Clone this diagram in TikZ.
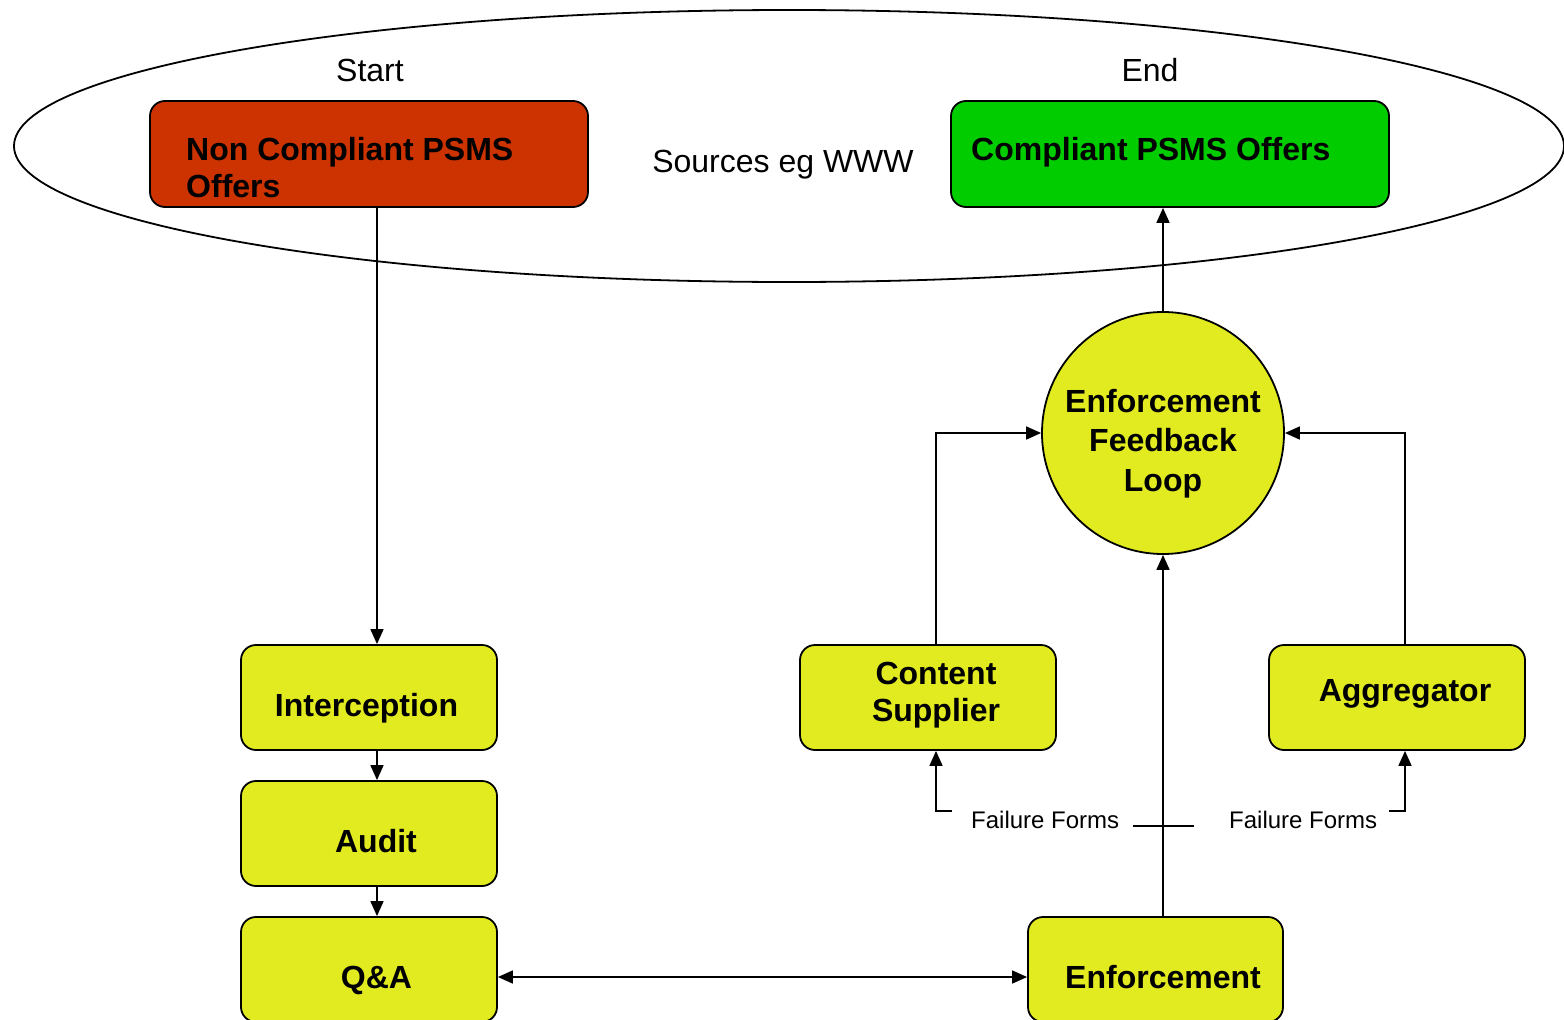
\documentclass[tikz,border=0pt]{standalone}
\usepackage{fontspec}
\setmainfont{Liberation Sans}
\usetikzlibrary{arrows.meta}
\definecolor{redbox}{HTML}{CC3300}
\definecolor{greenbox}{HTML}{00CC00}
\definecolor{yellowbox}{HTML}{E1EB1F}
\begin{document}
\begin{tikzpicture}[x=1pt,y=-1pt,
  box/.style={draw=black, line width=1.8pt, rounded corners=15pt, inner sep=0pt},
  ybox/.style={box, fill=yellowbox, minimum width=256pt, minimum height=105pt},
  tip/.style={-{Triangle[length=15pt,width=13pt]}},
  conn/.style={line width=1.6pt, tip},
  lbl/.style={inner sep=0pt, font=\fontsize{32}{37}\selectfont\bfseries},
  plainlbl/.style={inner sep=0pt, font=\fontsize{32}{37}\selectfont},
  smalllbl/.style={inner sep=0pt, font=\fontsize{24}{28}\selectfont}]
\useasboundingbox (0,0) rectangle (1564,1020);
\fill[white] (0,0) rectangle (1564,1020);

% sources ellipse
\draw[line width=1.8pt] (789,146) ellipse [x radius=775, y radius=136];
\node[plainlbl, anchor=base] (start) at (370,81) {Start};
\node[plainlbl, anchor=base] (end) at (1150,81) {End};
\node[plainlbl, anchor=base] (src) at (783,172) {Sources eg WWW};

% boxes
\node[box, fill=redbox, minimum width=438pt, minimum height=106pt] (nc) at (369,154) {};
\node[box, fill=greenbox, minimum width=438pt, minimum height=106pt] (cp) at (1170,154) {};
\node[ybox] (int) at (369,697.5) {};
\node[ybox] (aud) at (369,833.5) {};
\node[ybox] (qa) at (369,969.5) {};
\node[ybox] (cs) at (928,697.5) {};
\node[ybox] (agg) at (1397,697.5) {};
\node[ybox, minimum width=255pt] (enf) at (1155.5,969.5) {};
\node[circle, draw=black, line width=1.8pt, fill=yellowbox, minimum size=242pt, inner sep=0pt] (efl) at (1163,433) {};

% labels
\node[lbl, anchor=north west, align=left] (ncl) at (186,137) {Non Compliant PSMS\\Offers};
\node[lbl, anchor=base west] (cpl) at (971,160) {Compliant PSMS Offers};
\node[lbl, anchor=base] (intl) at (366.5,716) {Interception};
\node[lbl, anchor=base] (audl) at (376,852.5) {Audit};
\node[lbl, anchor=base] (qal) at (376.5,988) {Q\&A};
\node[lbl, anchor=north, align=center] (csl) at (936,662) {Content\\Supplier};
\node[lbl, anchor=base] (aggl) at (1405,701) {Aggregator};
\node[lbl, anchor=base] (enfl) at (1163,988) {Enforcement};
\node[lbl, anchor=north, align=center, font=\fontsize{32}{39.5}\selectfont\bfseries] (efll) at (1163,389) {Enforcement\\Feedback\\Loop};
\node[smalllbl, anchor=base west] (ff1) at (971,828) {Failure Forms};
\node[smalllbl, anchor=base west] (ff2) at (1229,828) {Failure Forms};

% helper coordinates
\coordinate (lx) at (377,0);
\coordinate (qy) at (0,977);
\coordinate (csx) at (936,0);
\coordinate (aggx) at (1405,0);
\coordinate (b1) at (952,811);
\coordinate (b2) at (1389,811);
\coordinate (x1) at (1133,826);
\coordinate (x2) at (1194,826);

% connectors
\draw[conn] (nc.south -| lx) -- (int.north -| lx);
\draw[conn] (int.south -| lx) -- (aud.north -| lx);
\draw[conn] (aud.south -| lx) -- (qa.north -| lx);
\draw[line width=1.6pt, {Triangle[length=15pt,width=13pt]}-{Triangle[length=15pt,width=13pt]}] (qa.east |- qy) -- (enf.west |- qy);
\draw[conn] (enf.north -| efl.south) -- (efl.south);
\draw[conn] (efl.north) -- (cp.south -| efl.north);
\draw[conn] (cs.north -| csx) |- (efl.west);
\draw[conn] (agg.north -| aggx) |- (efl.east);
\draw[conn] (b1) -| (cs.south -| csx);
\draw[conn] (b2) -| (agg.south -| aggx);
\draw[line width=1.6pt] (x1) -- (x2);
\end{tikzpicture}
\end{document}
